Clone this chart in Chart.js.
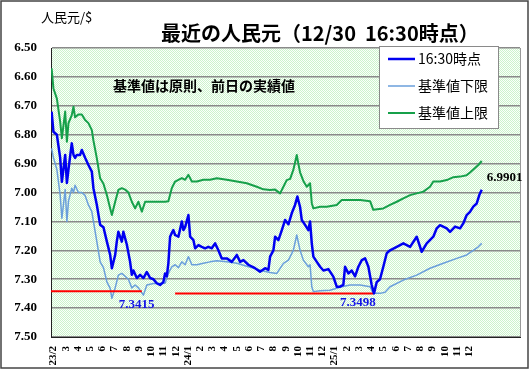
<!DOCTYPE html>
<html><head><meta charset="utf-8">
<script src="https://cdn.jsdelivr.net/npm/chart.js@4.4.1/dist/chart.umd.min.js"></script>
<style>html,body{margin:0;padding:0;background:#fff}canvas{display:block}</style>
</head><body>
<canvas id="c" width="529" height="369"></canvas>
<script>
// ---- tick labels (month starts, Feb 2023 = 0) ----
const monthLabels = ["23/2","3","4","5","6","7","8","9","10","11","12",
  "24/1","2","3","4","5","6","7","8","9","10","11","12",
  "25/1","2","3","4","5","6","7","8","9","10","11","12"];

// ---- 16:30 spot rate (CNY per USD) ----
const spotMonths = [-0.15,0,0.28,0.55,0.69,0.96,1.10,1.23,1.50,1.64,1.77,1.91,2.18,2.32,2.59,2.86,3.14,3.27,3.55,3.82,4.09,4.37,4.64,4.78,5.05,5.18,5.31,5.59,5.72,6.00,6.27,6.41,6.54,6.82,7.09,7.36,7.64,7.91,8.18,8.45,8.72,8.99,9.13,9.27,9.40,9.54,9.68,9.81,9.95,10.22,10.50,10.63,10.77,11.04,11.18,11.45,11.59,11.86,12.13,12.40,12.67,12.95,13.22,13.49,13.77,14.18,14.59,15.00,15.27,15.54,15.94,16.49,16.90,17.31,17.58,17.72,17.99,18.13,18.40,18.68,18.95,19.22,19.49,19.76,19.95,20.17,20.31,20.58,20.85,20.99,21.13,21.26,21.54,21.81,22.08,22.49,22.89,23.17,23.44,23.71,23.85,24.12,24.40,24.67,24.94,25.22,25.49,25.76,25.90,26.03,26.22,26.44,26.71,26.98,27.26,27.53,28.08,28.62,29.17,29.71,30.12,30.53,31.07,31.35,31.62,32.17,32.44,32.85,33.26,33.52,33.80,34.07,34.34,34.62,34.83,35.03];
const spotRates = [6.72,6.79,6.80,6.88,6.963,6.87,6.967,6.92,6.83,6.87,6.88,6.87,6.87,6.853,6.88,6.905,6.928,6.985,7.043,7.112,7.12,7.17,7.216,7.262,7.216,7.17,7.136,7.17,7.136,7.18,7.24,7.285,7.27,7.296,7.285,7.296,7.275,7.296,7.30,7.314,7.32,7.31,7.28,7.29,7.245,7.153,7.14,7.13,7.147,7.153,7.10,7.13,7.12,7.078,7.153,7.165,7.193,7.182,7.188,7.193,7.188,7.193,7.176,7.20,7.228,7.228,7.24,7.216,7.24,7.234,7.25,7.262,7.274,7.262,7.268,7.222,7.20,7.153,7.165,7.13,7.095,7.11,7.072,7.043,7.014,7.05,7.095,7.112,7.13,7.10,7.176,7.222,7.24,7.257,7.27,7.265,7.291,7.326,7.326,7.32,7.257,7.28,7.27,7.29,7.257,7.234,7.228,7.257,7.29,7.32,7.349,7.31,7.30,7.257,7.21,7.20,7.188,7.176,7.188,7.153,7.205,7.176,7.153,7.124,7.113,7.124,7.136,7.118,7.124,7.107,7.078,7.067,7.049,7.038,7.009,6.9901];

// ---- lower limit of the band (基準値下限) ----
const lowerMonths = [-0.15,0,0.28,0.55,0.69,0.96,1.10,1.23,1.50,1.64,1.77,2.04,2.32,2.59,2.86,3.14,3.27,3.55,3.82,4.09,4.37,4.64,4.78,5.05,5.31,5.59,5.86,6.13,6.41,6.68,6.95,7.36,7.64,8.18,8.72,9.13,9.40,9.68,9.95,10.22,10.50,10.77,11.04,11.32,11.73,12.26,12.81,13.36,14.18,15.00,15.81,16.63,17.17,17.72,18.27,18.81,19.22,19.62,19.90,20.17,20.44,20.85,20.99,21.13,21.26,21.81,22.62,23.58,24.26,25.08,25.90,26.16,26.71,27.12,27.53,28.62,29.71,30.80,31.89,32.99,33.80,34.34,34.75,35.03];
const lowerRates = [6.847,6.88,6.92,7.009,7.089,6.99,7.10,7.03,6.985,7.00,6.975,7.00,7.00,7.01,7.043,7.066,7.10,7.17,7.24,7.26,7.309,7.332,7.366,7.33,7.286,7.28,7.29,7.30,7.33,7.32,7.33,7.355,7.32,7.315,7.315,7.314,7.28,7.257,7.25,7.26,7.24,7.25,7.222,7.25,7.25,7.245,7.24,7.236,7.24,7.245,7.255,7.265,7.272,7.277,7.28,7.245,7.234,7.20,7.147,7.20,7.234,7.257,7.25,7.326,7.343,7.34,7.338,7.326,7.32,7.32,7.326,7.349,7.349,7.345,7.326,7.303,7.286,7.262,7.245,7.228,7.216,7.20,7.188,7.176];

// ---- upper limit of the band (基準値上限) ----
const upperMonths = [-0.15,0,0.28,0.55,0.69,0.96,1.10,1.23,1.50,1.64,1.77,2.04,2.32,2.59,2.86,3.14,3.27,3.55,3.82,4.09,4.37,4.64,4.78,5.05,5.31,5.59,5.86,6.13,6.41,6.68,6.95,7.23,7.50,7.91,8.72,9.13,9.40,9.68,9.95,10.22,10.50,10.77,11.04,11.32,11.73,12.26,12.81,13.36,14.18,15.00,15.81,16.63,17.17,17.72,18.13,18.54,18.81,19.08,19.36,19.62,19.90,20.03,20.17,20.44,20.72,20.99,21.13,21.26,21.81,22.35,23.17,23.58,24.26,25.08,25.90,26.16,26.98,27.53,28.08,28.62,29.17,29.71,30.26,30.80,31.07,31.62,32.17,32.71,33.26,33.80,34.07,34.48,34.75,35.03];
const upperRates = [6.57,6.64,6.675,6.755,6.812,6.72,6.824,6.76,6.732,6.703,6.74,6.73,6.73,6.749,6.76,6.784,6.82,6.882,6.951,6.97,7.009,7.055,7.078,7.032,6.991,6.985,6.99,7.00,7.032,7.055,7.032,7.066,7.032,7.032,7.032,7.032,7.03,6.985,6.962,6.956,6.95,6.956,6.939,6.962,6.962,6.956,6.956,6.951,6.956,6.962,6.968,6.98,6.989,6.991,6.99,7.003,6.98,6.957,6.953,6.922,6.87,6.90,6.93,6.96,6.98,6.968,7.037,7.055,7.049,7.049,7.043,7.026,7.026,7.026,7.03,7.06,7.055,7.043,7.032,7.02,7.009,7.003,6.997,6.98,6.962,6.962,6.957,6.947,6.945,6.94,6.931,6.915,6.905,6.891];

// ---- record-low reference lines ----
const low2023Months = [-0.2, 7.23];
const low2023Rates = [7.3415, 7.3415];
const low2025Months = [9.95, 26.16];
const low2025Rates = [7.3498, 7.3498];
const lastRate = 6.9901;

const pts = (xs, ys) => xs.map((x, i) => ({x, y: ys[i]}));

const serif = "'Liberation Serif','Times New Roman',serif";
const jp = "'Noto Sans CJK JP','Noto Sans',sans-serif";

function makePattern(ctx){
  const p = document.createElement('canvas');
  p.width = 2; p.height = 2;
  const c = p.getContext('2d');
  c.fillStyle = '#fbfffb'; c.fillRect(0,0,2,2);
  c.fillStyle = '#ccf3cc'; c.fillRect(0,0,1,1); c.fillRect(1,1,1,1);
  return ctx.createPattern(p, 'repeat');
}

const deco = {
  id: 'deco',
  beforeDraw(chart){
    const {ctx, chartArea:a} = chart;
    ctx.save();
    ctx.fillStyle = '#fff';
    ctx.fillRect(0,0,chart.width,chart.height);
    ctx.fillStyle = makePattern(ctx);
    ctx.fillRect(a.left, a.top, a.right-a.left, a.bottom-a.top);
    ctx.restore();
  },
  afterDraw(chart){
    const {ctx, chartArea:a, scales:{x, y}} = chart;
    ctx.save();
    // plot frame (right side)
    ctx.strokeStyle = '#9a9a9a'; ctx.lineWidth = 1;
    ctx.beginPath(); ctx.moveTo(a.right+0.5, a.top); ctx.lineTo(a.right+0.5, a.bottom); ctx.stroke();

    // title
    ctx.fillStyle = '#000';
    ctx.textBaseline = 'middle'; ctx.textAlign = 'left';
    ctx.font = 'bold 20px ' + jp;
    ctx.fillText('最近の人民元（12/30  16:30時点）', 161, 33);
    // axis unit
    ctx.font = '13px ' + jp;
    ctx.fillText('人民元/$', 41, 17);
    // note
    ctx.font = 'bold 14px ' + jp;
    ctx.fillText('基準値は原則、前日の実績値', 113, 86);

    // value labels
    ctx.font = 'bold 13px ' + serif;
    ctx.fillStyle = '#1414e6';
    ctx.textAlign = 'center';
    ctx.fillText(low2023Rates[0].toFixed(4), x.getPixelForValue(6.8), y.getPixelForValue(low2023Rates[0]) + 13);
    ctx.fillText(low2025Rates[0].toFixed(4), x.getPixelForValue(24.9), y.getPixelForValue(low2025Rates[0]) + 9);
    ctx.fillStyle = '#000';
    ctx.textAlign = 'left';
    ctx.fillText(lastRate.toFixed(4), x.getPixelForValue(35.45), y.getPixelForValue(lastRate) - 12);

    // legend
    const L = 379, T = 46, W = 119, H = 82;
    ctx.fillStyle = '#fff'; ctx.fillRect(L, T, W, H);
    ctx.strokeStyle = '#8a8a8a'; ctx.lineWidth = 1;
    ctx.strokeRect(L+0.5, T+0.5, W, H);
    ctx.font = '14px ' + jp;
    chart.data.datasets.filter(d => d.inLegend).forEach((d, i) => {
      const ry = T + 13 + i*27;
      ctx.strokeStyle = d.borderColor; ctx.lineWidth = d.borderWidth;
      ctx.beginPath(); ctx.moveTo(L+9, ry); ctx.lineTo(L+36, ry); ctx.stroke();
      ctx.fillStyle = '#000'; ctx.textAlign = 'left';
      ctx.fillText(d.label, L+39, ry);
    });

    // outer frame
    ctx.strokeStyle = '#444'; ctx.lineWidth = 1.5;
    ctx.strokeRect(1, 1, chart.width-2, chart.height-2);
    ctx.restore();
  }
};

new Chart(document.getElementById('c'), {
  type: 'line',
  data: {
    datasets: [
      {label:'16:30時点', data: pts(spotMonths, spotRates), borderColor:'#0000f0', borderWidth:2.5, order:0, inLegend:true},
      {label:'基準値下限', data: pts(lowerMonths, lowerRates), borderColor:'#6a9fdb', borderWidth:1.5, order:3, inLegend:true},
      {label:'基準値上限', data: pts(upperMonths, upperRates), borderColor:'#16a04a', borderWidth:2, order:2, inLegend:true},
      {label:'low2023', data: pts(low2023Months, low2023Rates), borderColor:'#ff0000', borderWidth:2, order:1},
      {label:'low2025', data: pts(low2025Months, low2025Rates), borderColor:'#ff0000', borderWidth:2, order:1}
    ]
  },
  options: {
    responsive:false, animation:false, devicePixelRatio:1,
    layout:{padding:{top:48, right:9, left:0, bottom:0}},
    plugins:{legend:{display:false}, tooltip:{enabled:false}, title:{display:false}},
    elements:{point:{radius:0}, line:{tension:0, borderJoinStyle:'round', fill:false}},
    scales:{
      x:{type:'linear', min:-0.2, max:38.16,
        afterBuildTicks: s => { s.ticks = monthLabels.map((_, i) => ({value:i})); },
        grid:{display:false, drawTicks:false},
        border:{display:true, color:'#222', width:1},
        ticks:{autoSkip:false, minRotation:90, maxRotation:90, padding:9, color:'#000',
          font:{family:serif, weight:'bold', size:11},
          callback: v => monthLabels[Math.round(v)]},
        afterFit: s => { s.height = 32; }
      },
      y:{type:'linear', reverse:true, min:6.5, max:7.5,
        ticks:{stepSize:0.1, padding:14, color:'#000', font:{family:serif, weight:'bold', size:13},
          callback: v => v.toFixed(2)},
        grid:{color:'#8a8a8a', lineWidth:1.5, drawTicks:false},
        border:{display:true, color:'#222', width:1},
        afterFit: s => { s.width = 51; }
      }
    }
  },
  plugins:[deco]
});
</script>
</body></html>
